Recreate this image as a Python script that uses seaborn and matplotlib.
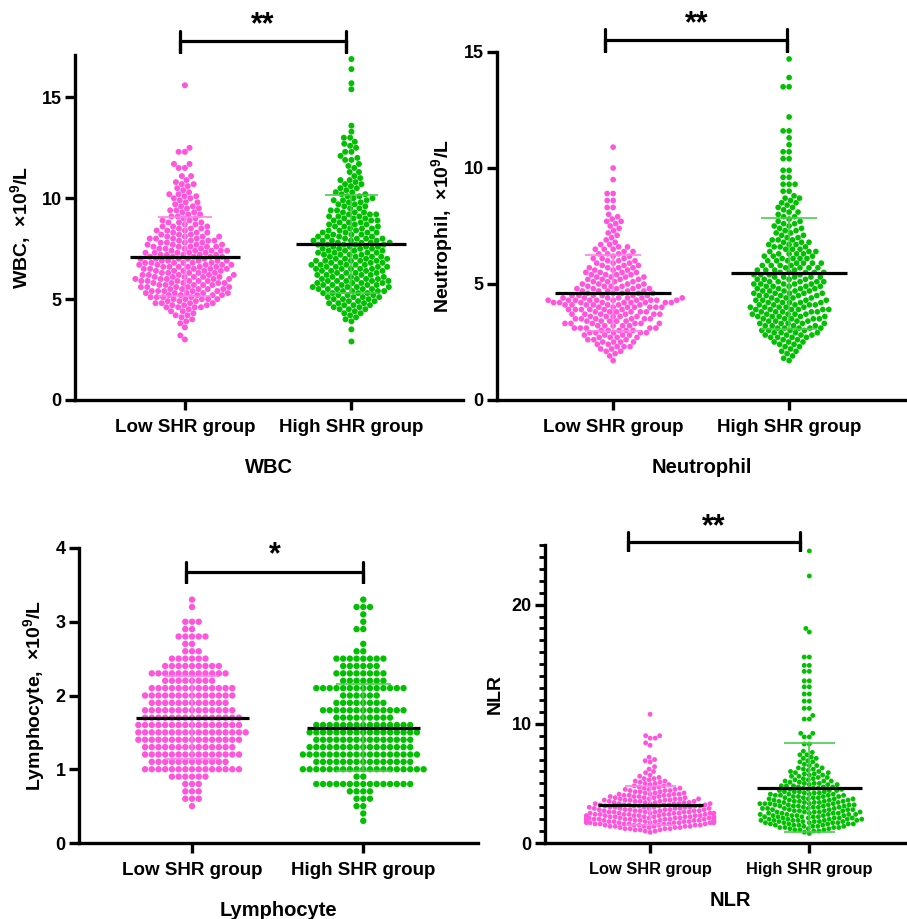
import numpy as np
import pandas as pd
import matplotlib
matplotlib.use("Agg")
import matplotlib.pyplot as plt
from matplotlib.ticker import MultipleLocator
import seaborn as sns

# --- data: (value, number of dots at that value) ---
groups = ["Low SHR group", "High SHR group"]

wbc_low = [(3.0, 1), (3.2, 1), (3.6, 1), (3.8, 1), (3.9, 1), (4.0, 1), (4.1, 1), (4.2, 2), (4.3, 1),
           (4.4, 2), (4.5, 1), (4.6, 4), (4.7, 3), (4.8, 4), (4.9, 3), (5.0, 5), (5.1, 4), (5.2, 5),
           (5.3, 5), (5.4, 5), (5.5, 5), (5.6, 5), (5.7, 5), (5.8, 5), (5.9, 6), (6.0, 5), (6.1, 6),
           (6.2, 5), (6.3, 5), (6.4, 5), (6.5, 5), (6.6, 6), (6.7, 5), (6.8, 6), (6.9, 5), (7.0, 5),
           (7.1, 5), (7.2, 5), (7.3, 5), (7.4, 5), (7.5, 4), (7.6, 5), (7.7, 4), (7.8, 4), (7.9, 4),
           (8.0, 4), (8.1, 4), (8.2, 3), (8.3, 3), (8.4, 3), (8.5, 3), (8.6, 3), (8.7, 2), (8.8, 3),
           (8.9, 2), (9.0, 2), (9.1, 2), (9.2, 2), (9.3, 2), (9.4, 2), (9.5, 2), (9.6, 2), (9.7, 1),
           (9.8, 2), (9.9, 1), (10.0, 2), (10.1, 2), (10.2, 2), (10.3, 1), (10.4, 1), (10.5, 1),
           (10.6, 1), (10.7, 2), (10.8, 1), (10.9, 1), (11.1, 2), (11.5, 2), (11.7, 2), (12.3, 2),
           (12.5, 1), (15.6, 1)]
wbc_high = [(2.9, 1), (3.5, 1), (3.9, 1), (4.0, 1), (4.1, 1), (4.2, 1), (4.3, 2), (4.4, 1), (4.5, 3),
            (4.6, 2), (4.7, 3), (4.8, 3), (4.9, 3), (5.0, 3), (5.1, 4), (5.2, 3), (5.3, 4), (5.4, 4),
            (5.5, 5), (5.6, 4), (5.7, 5), (5.8, 4), (5.9, 5), (6.0, 4), (6.1, 4), (6.2, 4), (6.3, 4),
            (6.4, 4), (6.5, 5), (6.6, 4), (6.7, 5), (6.8, 4), (6.9, 5), (7.0, 4), (7.1, 4), (7.2, 4),
            (7.3, 4), (7.4, 4), (7.5, 4), (7.6, 4), (7.7, 5), (7.8, 4), (7.9, 5), (8.0, 4), (8.1, 4),
            (8.2, 3), (8.3, 4), (8.4, 3), (8.5, 3), (8.6, 3), (8.7, 3), (8.8, 3), (8.9, 3), (9.0, 3),
            (9.1, 3), (9.2, 3), (9.3, 3), (9.4, 2), (9.5, 2), (9.6, 2), (9.7, 2), (9.8, 2), (9.9, 3),
            (10.0, 2), (10.1, 2), (10.2, 2), (10.3, 2), (10.4, 1), (10.5, 2), (10.6, 1), (10.7, 2),
            (10.8, 1), (10.9, 2), (11.0, 1), (11.1, 1), (11.3, 2), (11.5, 1), (11.6, 1), (11.7, 1),
            (11.9, 2), (12.0, 1), (12.1, 1), (12.3, 2), (12.5, 1), (12.6, 1), (12.7, 1), (12.8, 1),
            (13.0, 2), (13.3, 1), (13.6, 1), (15.4, 1), (15.7, 1), (16.4, 1), (16.9, 1)]

neu_low = [(1.7, 1), (1.9, 1), (2.0, 1), (2.1, 2), (2.2, 2), (2.3, 3), (2.4, 2), (2.5, 4), (2.6, 3),
           (2.7, 4), (2.8, 4), (2.9, 5), (3.0, 5), (3.1, 5), (3.2, 5), (3.3, 6), (3.4, 5), (3.5, 6),
           (3.6, 5), (3.7, 6), (3.8, 6), (3.9, 6), (4.0, 7), (4.1, 7), (4.2, 9), (4.3, 10), (4.4, 7),
           (4.5, 6), (4.6, 5), (4.7, 5), (4.8, 5), (4.9, 5), (5.0, 4), (5.1, 4), (5.2, 4), (5.3, 4),
           (5.4, 4), (5.5, 4), (5.6, 3), (5.7, 4), (5.8, 3), (5.9, 3), (6.0, 3), (6.1, 3), (6.2, 2),
           (6.3, 3), (6.4, 2), (6.5, 3), (6.6, 2), (6.7, 2), (6.8, 1), (6.9, 1), (7.0, 1), (7.1, 1),
           (7.2, 1), (7.3, 1), (7.4, 1), (7.5, 1), (7.6, 1), (7.7, 2), (7.8, 1), (7.9, 1), (8.0, 1),
           (8.3, 2), (8.6, 2), (8.9, 2), (9.5, 1), (10.0, 1), (10.9, 1)]
neu_high = [(1.7, 1), (1.8, 1), (1.9, 1), (2.0, 1), (2.1, 2), (2.2, 1), (2.3, 2), (2.4, 2), (2.5, 3),
            (2.6, 2), (2.7, 4), (2.8, 4), (2.9, 4), (3.0, 4), (3.1, 5), (3.2, 4), (3.3, 5), (3.4, 4),
            (3.5, 5), (3.6, 5), (3.7, 5), (3.8, 5), (3.9, 6), (4.0, 5), (4.1, 5), (4.2, 5), (4.3, 5),
            (4.4, 4), (4.5, 5), (4.6, 5), (4.7, 5), (4.8, 4), (4.9, 5), (5.0, 5), (5.1, 5), (5.2, 4),
            (5.3, 5), (5.4, 4), (5.5, 5), (5.6, 4), (5.7, 4), (5.8, 4), (5.9, 4), (6.0, 3), (6.1, 4),
            (6.2, 3), (6.3, 4), (6.4, 3), (6.5, 3), (6.6, 3), (6.7, 3), (6.8, 3), (6.9, 3), (7.0, 2),
            (7.1, 2), (7.2, 2), (7.3, 2), (7.4, 2), (7.5, 2), (7.6, 2), (7.7, 2), (7.8, 1), (7.9, 2),
            (8.0, 1), (8.1, 2), (8.2, 1), (8.3, 2), (8.4, 1), (8.5, 2), (8.6, 1), (8.7, 2), (8.8, 1),
            (9.0, 2), (9.3, 3), (9.6, 2), (9.9, 2), (10.4, 2), (10.7, 2), (11.0, 1), (11.3, 1),
            (11.6, 2), (12.2, 1), (13.5, 2), (13.9, 1), (14.7, 1)]

lym_low = [(0.5, 1), (0.6, 3), (0.7, 3), (0.8, 3), (0.9, 6), (1.0, 15), (1.1, 12), (1.2, 15),
           (1.3, 14), (1.4, 16), (1.5, 17), (1.6, 16), (1.7, 15), (1.8, 14), (1.9, 12), (2.0, 14),
           (2.1, 13), (2.2, 8), (2.3, 12), (2.4, 9), (2.5, 6), (2.6, 3), (2.7, 2), (2.8, 5),
           (2.9, 2), (3.0, 3), (3.2, 1), (3.3, 1)]
lym_high = [(0.3, 1), (0.4, 1), (0.5, 2), (0.6, 3), (0.7, 4), (0.8, 15), (0.9, 2), (1.0, 19),
            (1.1, 15), (1.2, 18), (1.3, 16), (1.4, 15), (1.5, 17), (1.6, 15), (1.7, 9), (1.8, 13),
            (1.9, 8), (2.0, 6), (2.1, 14), (2.2, 7), (2.3, 8), (2.4, 6), (2.5, 8), (2.6, 2),
            (2.7, 1), (2.9, 2), (3.0, 1), (3.1, 1), (3.2, 3), (3.3, 1)]

nlr_low = [(0.9, 1), (1.0, 2), (1.1, 3), (1.2, 4), (1.3, 4), (1.4, 6), (1.5, 6), (1.6, 7), (1.7, 8),
           (1.8, 10), (1.9, 8), (2.0, 8), (2.1, 7), (2.2, 8), (2.3, 7), (2.4, 7), (2.5, 7), (2.6, 6),
           (2.7, 6), (2.8, 6), (2.9, 6), (3.0, 7), (3.1, 6), (3.2, 6), (3.3, 6), (3.4, 5), (3.5, 5),
           (3.6, 5), (3.7, 5), (3.8, 4), (3.9, 4), (4.0, 4), (4.1, 4), (4.2, 3), (4.3, 3), (4.4, 3),
           (4.5, 3), (4.6, 3), (4.7, 2), (4.8, 2), (4.9, 2), (5.0, 2), (5.1, 2), (5.2, 2), (5.3, 1),
           (5.4, 2), (5.5, 1), (5.6, 1), (5.7, 1), (5.9, 1), (6.0, 1), (6.2, 1), (6.4, 1), (6.8, 1),
           (6.9, 1), (7.0, 1), (7.2, 1), (8.2, 1), (8.4, 1), (8.8, 2), (9.0, 2), (10.8, 1)]
nlr_high = [(0.8, 1), (0.9, 1), (1.0, 2), (1.1, 3), (1.2, 3), (1.3, 4), (1.4, 4), (1.5, 4), (1.6, 5),
            (1.7, 5), (1.8, 5), (1.9, 6), (2.0, 5), (2.1, 5), (2.2, 5), (2.3, 5), (2.4, 5), (2.5, 5),
            (2.6, 5), (2.7, 4), (2.8, 5), (2.9, 5), (3.0, 4), (3.1, 5), (3.2, 5), (3.3, 5), (3.4, 5),
            (3.5, 5), (3.6, 4), (3.7, 4), (3.8, 4), (3.9, 4), (4.0, 4), (4.1, 4), (4.2, 3), (4.3, 4),
            (4.4, 3), (4.5, 3), (4.6, 3), (4.7, 3), (4.8, 3), (4.9, 3), (5.0, 3), (5.1, 2), (5.2, 3),
            (5.3, 2), (5.4, 2), (5.5, 2), (5.6, 2), (5.7, 2), (5.8, 2), (5.9, 2), (6.0, 2), (6.1, 1),
            (6.2, 2), (6.3, 2), (6.5, 2), (6.6, 1), (6.8, 2), (6.9, 1), (7.1, 2), (7.2, 1), (7.4, 2),
            (7.6, 1), (7.7, 1), (8.3, 2), (8.9, 2), (9.2, 2), (10.4, 2), (10.7, 1), (11.3, 2),
            (11.9, 2), (12.5, 2), (13.1, 2), (13.6, 2), (14.4, 2), (14.9, 2), (15.6, 2), (17.7, 1),
            (18.0, 1), (22.4, 1), (24.5, 1)]

PINK = "#FF55DD"
GREEN = "#00C000"
PINK_SD = "#FF80E8"
GREEN_SD = "#4CCC4C"


def make_df(low, high):
    lv, lc = zip(*low)
    hv, hc = zip(*high)
    a = np.repeat(lv, lc)
    b = np.repeat(hv, hc)
    return pd.DataFrame({
        "group": [groups[0]] * len(a) + [groups[1]] * len(b),
        "value": np.concatenate([a, b]),
    })


def draw_panel(ax, df, ylim, yticks, ylabel, xlabel, stars, br_x, br_y, br_tick, star_y,
               tick_fs=13.5, xpad=16, minor=None, dot=4.3):
    sns.swarmplot(data=df, x="group", y="value", hue="group", order=groups, hue_order=groups,
                  palette=[PINK, GREEN], size=dot, linewidth=0, legend=False, ax=ax, zorder=2)

    # mean (black) and SD (group colour)
    stats = df.groupby("group")["value"].agg(["mean", "std"])
    for i, (g, c) in enumerate(zip(groups, [PINK_SD, GREEN_SD])):
        m, s = stats.loc[g, "mean"], stats.loc[g, "std"]
        ax.vlines(i, m - s, m + s, color=c, lw=1.2, zorder=3)
        ax.hlines([m - s, m + s], i - 0.16, i + 0.16, color=c, lw=1.2, zorder=3)
        ax.hlines(m, i - 0.33, i + 0.33, color="black", lw=2.3, zorder=4)

    ax.set_xlim(-0.66, 1.67)
    ax.set_ylim(*ylim)
    ax.set_yticks(yticks)
    if minor:
        ax.yaxis.set_minor_locator(MultipleLocator(minor))
        ax.tick_params(axis="y", which="minor", length=4, width=2.0)
    sns.despine(ax=ax)
    for sp in ["left", "bottom"]:
        ax.spines[sp].set_linewidth(2.4)
    ax.tick_params(which="major", length=7.5, width=2.4, labelsize=13, pad=2)
    ax.tick_params(axis="x", labelsize=tick_fs, pad=6)
    for lab in ax.get_xticklabels() + ax.get_yticklabels():
        lab.set_fontweight("bold")
    ax.set_ylabel(ylabel, fontsize=14, fontweight="bold", labelpad=6)
    ax.set_xlabel(xlabel, fontsize=14.5, fontweight="bold", labelpad=xpad)

    # significance bracket
    ax.plot([br_x[0], br_x[0], br_x[0], br_x[1], br_x[1], br_x[1]],
            [br_tick[0], br_tick[1], br_y, br_y, br_tick[1], br_tick[0]],
            color="black", lw=2.3, clip_on=False, solid_joinstyle="miter")
    ax.text((br_x[0] + br_x[1]) / 2, star_y, stars, ha="center", va="center",
            fontsize=22, fontweight="bold", clip_on=False)


sns.set_style("ticks")
plt.rcParams["font.family"] = ["Liberation Sans", "DejaVu Sans"]
plt.rcParams["mathtext.fontset"] = "custom"
plt.rcParams["mathtext.rm"] = "Liberation Sans:bold"
plt.rcParams["mathtext.it"] = "Liberation Sans:bold"
plt.rcParams["mathtext.bf"] = "Liberation Sans:bold"
plt.rcParams["axes.edgecolor"] = "black"
plt.rcParams["axes.labelcolor"] = "black"
plt.rcParams["text.color"] = "black"
plt.rcParams["xtick.color"] = "black"
plt.rcParams["ytick.color"] = "black"

fig = plt.figure(figsize=(9.07, 9.19), dpi=100)
W, H = 907, 919


def px_axes(left, top, right, bottom):
    return fig.add_axes([left / W, 1 - bottom / H, (right - left) / W, (bottom - top) / H])


ax_wbc = px_axes(75, 55, 463, 400)
ax_neu = px_axes(497, 52, 907, 400)
ax_lym = px_axes(79, 548, 478, 843)
ax_nlr = px_axes(545, 545, 916, 843)

draw_panel(ax_wbc, make_df(wbc_low, wbc_high),
           (0, 17.1), [0, 5, 10, 15], "WBC,  ×10$^{9}$/L", "WBC", "**",
           (-0.03, 0.97), 17.77, (18.3, 17.2), 18.55)
draw_panel(ax_neu, make_df(neu_low, neu_high),
           (0, 15), [0, 5, 10, 15], "Neutrophil,  ×10$^{9}$/L", "Neutrophil", "**",
           (-0.045, 0.99), 15.52, (16.0, 15.0), 16.2, dot=4.1)
draw_panel(ax_lym, make_df(lym_low, lym_high),
           (0, 4), [0, 1, 2, 3, 4], "Lymphocyte,  ×10$^{9}$/L", "Lymphocyte", "*",
           (-0.035, 1.0), 3.67, (3.81, 3.53), 3.9, dot=4.6)
draw_panel(ax_nlr, make_df(nlr_low, nlr_high),
           (0, 25), [0, 10, 20], "NLR", "NLR", "**",
           (-0.14, 0.94), 25.25, (26.1, 24.5), 26.45, tick_fs=11.8, xpad=10, minor=1, dot=3.5)

fig.savefig("out.png", dpi=100)
